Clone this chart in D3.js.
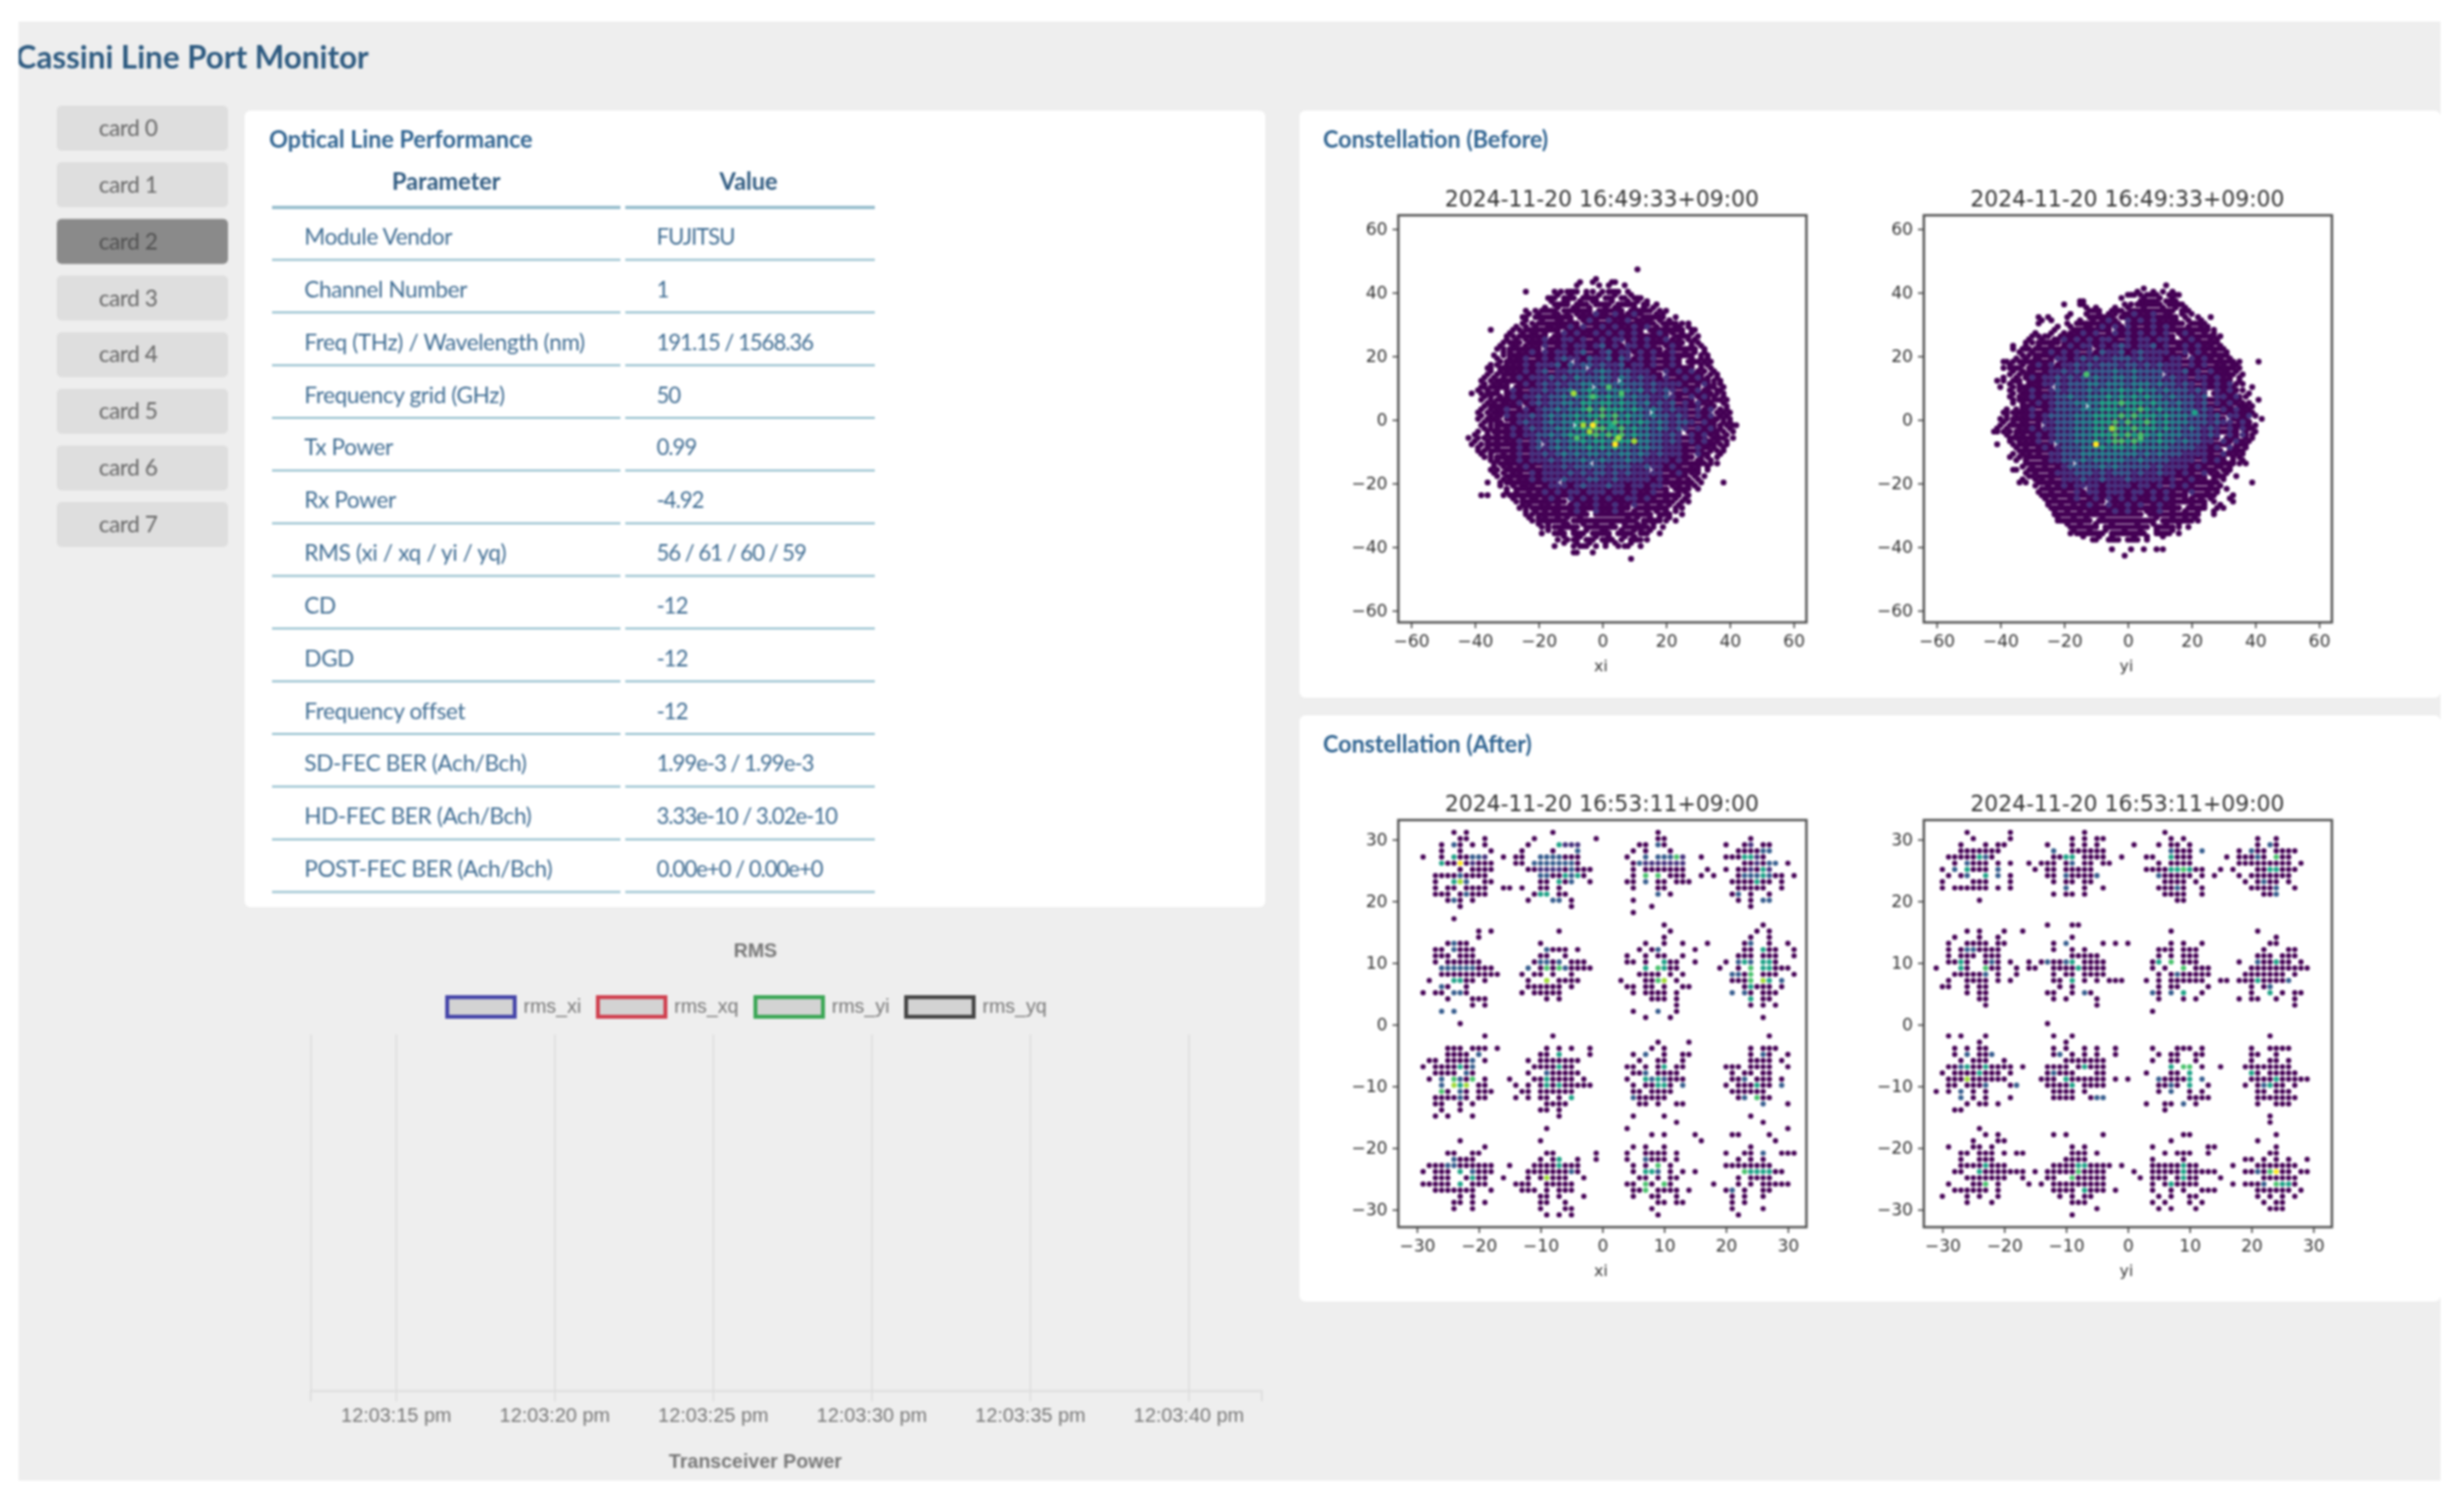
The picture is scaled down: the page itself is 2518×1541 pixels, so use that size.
<!DOCTYPE html>
<html>
<head>
<meta charset="utf-8">
<title>Cassini Line Port Monitor</title>
<script src="https://d3js.org/d3.v7.min.js"></script>
<style>
  html, body { margin: 0; padding: 0; background: #fff; }
  svg { display: block; filter: blur(0.8px); }
  .ui { font-family: Lato, "Open Sans", sans-serif; }
  .mpl { font-family: "DejaVu Sans", sans-serif; fill: #333; }
  .cjs { font-family: "Liberation Sans", Arial, sans-serif; fill: #777; }
</style>
</head>
<body>
<svg id="page" width="2518" height="1541"></svg>
<script>
// Sidebar and table content.
const cards = ["card 0", "card 1", "card 2", "card 3", "card 4", "card 5", "card 6", "card 7"];
const activeCard = "card 2";
const tableHeader = ["Parameter", "Value"];
const paramNames = ["Module Vendor", "Channel Number", "Freq (THz) / Wavelength (nm)", "Frequency grid (GHz)", "Tx Power", "Rx Power", "RMS (xi / xq / yi / yq)", "CD", "DGD", "Frequency offset", "SD-FEC BER (Ach/Bch)", "HD-FEC BER (Ach/Bch)", "POST-FEC BER (Ach/Bch)"];
const paramValues = ["FUJITSU", "1", "191.15 / 1568.36", "50", "0.99", "-4.92", "56 / 61 / 60 / 59", "-12", "-12", "-12", "1.99e-3 / 1.99e-3", "3.33e-10 / 3.02e-10", "0.00e+0 / 0.00e+0"];

// RMS chart: the reference shows an empty time window.
const rmsSeries = ["rms_xi", "rms_xq", "rms_yi", "rms_yq"];
const rmsColors = ["#4444a8", "#d0404f", "#3aa655", "#444444"];
const rmsTicks = ["12:03:15", "12:03:20", "12:03:25", "12:03:30", "12:03:35", "12:03:40"];
const rmsWindow = ["12:03:12.3", "12:03:42.3"];

// Constellation titles and ticks.
const beforeTime = "2024-11-20 16:49:33+09:00";
const afterTime = "2024-11-20 16:53:11+09:00";
const beforeTicks = [-60, -40, -20, 0, 20, 40, 60];
const afterTicks = [-30, -20, -10, 0, 10, 20, 30];

// After panels: [y, "x x:level a~b:level"], level is the colour bin (default 1).
const afterXiRows = [
[31,"-24 -22 -8 9"],
[30,"-23 -22 -19 -11 -1 9 10 24"],
[29,"-26 -24:3 -23 -21 -19 -12 -7:5 -6~-4:2 6 7 9:3 10 20 23 24:2 26 27"],
[28,"-26 -23 -18 -13 -8 -4:3 5 7 11 22 23 24 25 26:3 27:3"],
[27,"-29 -26 -24:5 -23 -22 -21:3 -20:3 -19:2 -16 -14 -13 -10~-7:3 -6 -5 -4 4 7:3 9:3 10:3 11:3 12:6 13:2 16 20 21 22 23:5 24:5 25:2 26"],
[26,"-26:5 -25 -24 -23:8 -22 -21:2 -20 -19 -18 -14 -13 -11~-6:3 -5:3 -4 5 6:3 7~13:2 23 24 25:2 26 27:3 28:3 30"],
[25,"-23 -21 -20 -19 -18 -12 -11 -10~-7:2 -6 -5:3 -4 -3 -2 5 7 8 9 10 11 12 13 17 20 22 23 24:2 25 26:5 27:2"],
[24,"-27 -26 -25 -24 -23:3 -22 -21 -20 -19 -10:3 -9:3 -8 -7 -6:5 -5:3 -4:5 -3 5 7:6 9:6 11 12 13 16 18 22 23:3 24:3 25:3 26:5 27:3 28 29 31"],
[23,"-27 -24:5 -23:7 -22:3 -19 -18 -10 -9 -7:5 -6 -5:3 -2 4 5 7:3 9 10 12 13 14 21 22 23 24 25:5 26 27 29"],
[22,"-27 -25 -24 -22 -21 -20 -19 -16 -15 -13 -10 -9 -7 5 9 10 22 23 24 25 26 29"],
[21,"-27 -26 -25 -23 -22:3 -21 -20 -19 -11 -10:5 -9:5 -7 -6 9:3 11 21 22:3 24 27"],
[20,"-25 -24:3 -23 -21 -12 -8:3 -7:3 -5 5 22 24 26:3 27:3"],
[19,"-23 -5 8 24"],
[18,"5"],
[17,"-24"],
[16,"10 26"],
[15,"-20 -18 -7 11 25 27"],
[14,"-20 10 24 27"],
[13,"-25 -24:3 -23 -22 -10 7 10 13 17 23 24:3 27 30"],
[12,"-27 -26 -24:3 -23 -22 -21 -9:3 -8 -7 -6 -4 6 8 9:3 15 23 24 26:5 27 28 31"],
[11,"-27 -26 -25 -23 -22 -21 -10 -9 -6 4 7 9 10 13 22 23 24 26 27 28 31"],
[10,"-27 -25 -24 -23 -22 -21 -20 -11 -10:3 -9:3 -8 -7:3 -5 -4 -3 4 5 7 10:5 11 12 15 20 22:3 23:5 24:3 26:5 27:5 28"],
[9,"-26:3 -25:3 -24~-21:3 -20 -19 -18 -12:3 -10 -9:6 -8 -7:6 -6:3 -5 -4 -3 -2 7:5 9:6 10:5 11 12 19 22 24:6 26:5 27:5 28 29 30"],
[8,"-26 -25~-22 -21 -20 -19 -18 -17 -13 -11 -10 -8 -5 6 7 8 9 11 13 21:3 22:3 23 24:6 26 27 28 31"],
[7,"-28 -24:5 -23:5 -22 -21 -19 -12 -9:7 -7 -6 -5 -4 3 7 8 9:6 10:7 12 21 22 23 24:6 26:7 27:5 29:3"],
[6,"-26:3 -25 -22 -12 -11 -10 -9 -8 -7 -5 4 5 7 8 10 13 14 23 24:5 25 26 27 29"],
[5,"-29 -27 -26 -24:3 -23:3 -22 -13 -11 -10 -9 -8 -7 5 7 8 9 10 12 21:3 23:3 24 26 27 28"],
[4,"-25 -21 -20 -19 -9 -7 8 9 10 12 24:5 26 27"],
[3,"-21 -19 12 24 26 28"],
[2,"-26:3 -24:3 5 9:3 12"],
[1,"7 11 26"],
[0,"-23"],
[-2,"-19 -8 27"],
[-3,"9 14"],
[-4,"-25 -24 -23 -21 -20 -19 -17 -9 -7 -5 -2 8 10 24 26 27 28"],
[-5,"-25 -24 -23 -22 -20:3 -10 -9 -7:5 -2 5 7:3 10 13 14 24 26:3 27 30"],
[-6,"-28 -27 -25 -24 -23 -22 -21:3 -19 -12 -10 -9 -8 -7 -6 -5 -4 6 9 10 13 24 25 26 27 29"],
[-7,"-29 -27 -26 -25 -24 -23:5 -22 -21:3 -11 -10 -9 -8 -7:5 -6 -5 4 5 7 9 10:5 12 13 20 21 22 24 25 26 27 30"],
[-8,"-27 -26 -25 -24 -22:3 -21 -12 -9:3 -8 -7 -6 -5 -4 5 6 7:3 9 10 11 12 21 23 24 26 27"],
[-9,"-28 -26:3 -24:6 -23:3 -22 -21:6 -19 -15 -11 -10 -9:5 -8 -7 -6 -5 -3 4 7:5 8:3 9:5 10:3 11 12 13 21 22 23:3 25 26 27 29"],
[-10,"-26:3 -24:7 -23:5 -22:7 -20 -19 -14 -12 -10 -9:5 -8 -7:5 -6 -5 -4 -3 -2 5 7 8 9:5 10:5 11 13:3 20 22 23 24 25:5 26 27 29:3"],
[-11,"-26:6 -25 -23:3 -22 -20 -19 -18 -13 -12 -10 -9 -8 -7 -6 -5 5 6 8 9 10 11 21 22 23 24 25 26"],
[-12,"-27 -26 -25 -24 -23:3 -22 -20 -19 -14 -12 -10 -9 -7 -5:5 5:3 6 7 8 9 10 22 23:3 25:6 26 27"],
[-13,"-27 -26 -23 -21 -9 -8 -7 -6 6 7 9 12 13 26:3 30"],
[-14,"-26 -23 -10 -9 -7"],
[-15,"-27 -25 -21 -7 5 10 24"],
[-16,"12 26"],
[-17,"-9 4 30"],
[-18,"8 10 15 21 22 27"],
[-19,"-23 -10 16 28"],
[-20,"-19 5 7 10 24"],
[-21,"-25 -24 -21 -20 -9 -8 -1 4 7 8 9 10 12 20 23 24 26:3 29 30 31"],
[-22,"-24:3 -23 -22 -21 -10 -8 -7:5 -4 -1 4 7:3 8 9 10 12 22 24 26"],
[-23,"-28 -27 -26 -25:3 -24:3 -23 -22 -21 -20 -19 -18 -15 -11 -10 -9 -8 -7:5 -6 -5 -4 5 7 9:6 11 20 21 22 23 24 25 26 27"],
[-24,"-29 -27 -26 -25 -23:5 -21:3 -20 -19 -18 -12 -11 -10 -9 -8 -7 -6 -5:3 -4 5 7:5 8:5 9:3 11 13 15 23:6 24:5 25:5 26:5 27:5 28 29"],
[-25,"-27 -26 -25 -22 -21:5 -20 -19 -16 -12 -10 -9:7 -8 -7 -6 -3 6 7 9 11 12 22 24 25 26 27"],
[-26,"-29 -28 -27 -26 -25 -23:5 -21 -20 -19 -14 -13 -12 -9 -8 -7 -6 -5 4 5 7:6 8 10:6 11 18 22 24 26 27 28 29 30"],
[-27,"-27 -26 -25 -24 -23 -22 -21 -18 -13 -12 -11 -9 -7 -6 -5 5 6 7:6 9 10 11 12 14 20 21:3 23 26 27"],
[-28,"-23 -21 -10 -9 -7 -3 5 8 9 12 21 23 26"],
[-29,"-24 -23 -21 -19 -10 -9 -6 9 10 12 13 21 23"],
[-30,"-24 -21 -10 -6 -5 8 21 26"],
[-31,"-9 -7 -5 9 22"]
];

const afterYiRows = [
[31,"-26 -19 -7 6"],
[30,"-25 -19 -9 -7 -5 -4 7 9 21 24"],
[29,"-27 -23 -21 -20 -13 -9 -7 -5 1 5 7 8 10 21 23:3 24"],
[28,"-27~-21 -12:3 -9 -8 -7 -6 -5 -4 7:3 8 9 10 12:3 18 20:3 21 22 24 25 26 27"],
[27,"-29 -28 -27 -26 -25 -24:5 -23:3 -22 -12 -11 -10:5 -9:5 -7 -6 -5 -4 -1 3 4 7:5 8 9 10 16 18 19 20 21:3 22 24:6 25 26"],
[26,"-28 -26:3 -25 -24 -23 -21 -19 -16 -14 -13 -12 -10 -9:3 -7 -6 -4 -3 5 7 8 9 10 18 19 20 21 22 23 24 25 26 28"],
[25,"-30 -28:3 -26:5 -25 -24 -23 -21:3 -15 -13 -12 -10 -9 -8 -7 -6 3 4 5 6 7:5 8:5 9:6 10:5 11 12 15 17 21 22 23:5 24:5 25 26 27"],
[24,"-29 -27 -26:3 -23:5 -21:3 -19 -13 -12 -10:3 -9 -8 -7 -6 -5:3 5:3 6 7 8 9 10 12 14 18 20 21 22 23 24 25 26"],
[23,"-30 -25 -24 -23 -19 -12 -10 -9 -7 -6 6 7 8 9 11 19 21 22:3 23 24 26"],
[22,"-30 -28 -27 -26 -25 -24 -23 -21 -19 -10:3 -7 -4 5 6 7 8:3 9 12 20 21 22 23 24:3 27"],
[21,"-12 -10 -9 -7 6 7 8 9 12 22 23 24:3"],
[20,"-24 8 9"],
[16,"-13 -9 -8"],
[15,"-26 -24 -20 -17 7 21"],
[14,"-28 -24 -21 -9 24"],
[13,"-29 -26 -25 -24 -23 -21 -20 -12 -10:3 -4 -2 0 7 9 12 23 24"],
[12,"-29 -27 -26:3 -25:3 -24 -23 -22 -21 -12 -9 -7 5 6 7 9 10 11 22 26 27"],
[11,"-29 -27 -26 -25 -23 -22 -21 -9 -8 -7 -6 -5 5 7 9 10 11 21 22 23 25 26 27"],
[10,"-29 -28 -27:5 -26 -23 -22:3 -21 -19 -16 -14 -13:3 -12 -11 -10:3 -9:5 -7 -6 -5 -4 4 5:5 7:6 9 10 11 18 21:3 22 23 24:5 25 26 28"],
[9,"-31 -27:5 -26 -23:6 -22 -21 -18 -16 -15 -12 -11 -10 -9 -8:5 -7 -6 -5 -4 4 6 9:6 11 12 13 20 21 22 23 24 25 26 27 28 29"],
[8,"-28 -27 -26 -25 -24 -23:3 -21 -18 -12 -10 -9 -7 -6 -5 -4 5 7 8:3 9 10 11 12 13 19 20 21 22 23 24 25 27"],
[7,"-29 -26 -25 -24 -23 -21 -19 -12 -11 -9:5 -7 -5 -3 -2 -1 3 5 7 8 9 10 11 12 15 16 18 19 20 21:5 22 23 24 25 26:3"],
[6,"-30 -29 -26 -24 -23 -11 -9 5 7 8 13 20 22 23:3"],
[5,"-26 -24 -23 -13 -12 -9 -7:3 -6 4:3 5 7:3 9:5 12 20 23:5 25 27 28"],
[4,"-24 -23 -12 -10 -5 5 9 11 18 20 21 24 27"],
[3,"-23 -5 27"],
[2,"4"],
[0,"-13"],
[-2,"-29 -27 -23 -12 -9 23"],
[-3,"-24 -10"],
[-4,"-28 -26 -24 -23 -12 -10 -7 -5 -2 4 8 9 10 12 20 23 24 25 26"],
[-5,"-28 -26:3 -24 -23 -22:3 -12 -11:3 -9 -7 -5 -2 5 7 8 11 12 20 21 24"],
[-6,"-27 -25 -24 -23 -20 -10 -9 -8 -7 -6 -5 -4 4 7 8 11 20 23 24 26"],
[-7,"-29 -28 -27:3 -26:5 -25 -24 -23:5 -22 -21 -20 -19 -17 -13 -12 -11 -10 -8 -7:5 -6 -5 -4 7:5 9:6 10:6 12 15 19 20 21 22 23 24 25 26"],
[-8,"-30 -28 -27 -26 -25 -24:5 -23 -22 -21 -19 -13 -12:3 -11 -10 -9 -5 -4 3 7 8 10:5 20:5 21 23 24 25 26 27"],
[-9,"-29 -28 -27 -26:7 -25 -24 -23 -22 -21 -20 -14 -13 -12 -10:5 -9 -8 -7 -6 -5 -4 -2 0 5:3 6 7 8 9 10:5 12:3 20 21 22 23 24:5 25 26 27 28 29"],
[-10,"-29 -28 -26 -25 -24 -23:3 -19 -18:3 -13 -12 -11 -10 -9:5 -7 -6 -5 -4 5 6 7:3 8 10:5 13 19 21 22:3 23:5 24 25 27"],
[-11,"-31 -29 -27:3 -25 -23 -12 -11 -10 -9 -7 5 7:3 10 12 21 22 24 25 26"],
[-12,"-27:3 -25 -23 -19 -12 -11 -10 -9 -6 -5:3 -4:3 10 11 12 13 21 22 23 24 25 26 27"],
[-13,"-26 -24 -23 -21 3 6 7 9:3 11 21 24 25 26"],
[-14,"-28 -27 6"],
[-15,"23"],
[-16,"23"],
[-17,"-24"],
[-18,"-23 -21 -12 -10 -4 9 10 24"],
[-19,"-25 -21 -20 7 21"],
[-20,"-29 -25 -24 -22 -9 -7 4 13 14 24"],
[-21,"-27 -26 -24 -23 -22 -20 -18 -17 -9 -8 -7 -5 6 8 9 10 13 23 24"],
[-22,"-27 -24 -23 -22 -10 -9 -8 -7 4 9 19 20 22 24 26 29"],
[-23,"-27 -26 -25 -24 -23:5 -22 -21 -20 -12 -11 -10 -9 -8:5 -7:5 -6 -5 -4 -3 -1 4 5 6 7 8 9:5 10 11 17 21 22 23 24 25 26 27"],
[-24,"-28 -27 -24:5 -23 -22 -21 -20 -19 -18 -17 -15 -13 -12 -11 -10 -9 -8:6 -7 -6 -5 -4 1 4 5 6 7 8 9:5 10 11 12 13 14 19 20 21:3 22 23:6 24:8 25 26 28 29"],
[-25,"-26 -25 -24 -23 -22 -21 -20 -17 -13 -12 -9:6 -8 -7 -6 -5 -4 2 4 5 6 8 9:5 10 11 15 22 23 24 25 26 27"],
[-26,"-29 -25 -24 -23:6 -21 -16 -14 -12 -11 -10 -9 -8 -7 -6 -5 -4 4 6 7:5 8 9 10 11 17 19 20 21 22:3 24:6 25:5 26:5 27"],
[-27,"-28 -27 -26 -25 -24 -23 -21 -12 -11 -10 -9 -7:5 -6 -5 -4 -2 4 7 9 12 13 14 21 22 23 24 25 26 28"],
[-28,"-30 -26 -24 -21 -11 -9 -7 -6 5 7 10 11 21 23 25 27"],
[-29,"-26 -22 -9 -8 -7 4 6 10 12 22 24 25"],
[-30,"-5 5 7 11 23 24 25"],
[-31,"-9"]
];

// Before panels, outer shape: same row format as above, every cell level 1.
const beforeXiShape = [
[47,"11"],[44,"-2"],[43,"-7 -3 3 4"],[42,"-8 -1 2 7"],
[40,"-24 -15 -13 -11~-8 -5 -3 0 2~5 8"],
[39,"-14 -10 -5 -1 4 9"],
[38,"-17~-15 -12~-9 -6~-2 1~3 6~7 10~12"],
[37,"-16 -12 -11 -7 -3 -2 3 8 11 14"],
[36,"-15~-11 -8~-5 -2~2 5~10 13~14 17"],
[35,"-18 -14 -9 -8 -4 1 4 5 10 13 16"],
[34,"-24 -21 -19~-15 -12~-4 -1~6 9~15 18 20"],
[33,"-23 -20 -15 -14 -11 -6 -2 1 6 11 12 17 19"],
[32,"-25 -24 -21~-10 -7~10 13~19 23"],
[31,"-24 -19 -14 -13 -10 11 14 15 18 21"],
[30,"-25 -22 -20~-8 -5~16 19~23 25 27"],
[29,"-27 -24 -21 -17 -16 -13 13 17 20 23 24 27"],
[28,"-35 -28 -26 -24~-14 -11~12 15~25 28 29"],
[27,"-29 -25 -22 -21 -18 19 22 25 28"],
[26,"-30 -28 -26~-18 -15~20 23~27 30"],
[25,"-30 -27 -24 -22 22 24 27 29"],
[24,"-31 -29~-26 -23~5 8~25 28 30"],
[23,"-32 -28 -27 -24 24 28 31"],
[22,"-33 -31 -29~-20 -17~18 21~29 32"],
[21,"-31 -29 -26 26 29 32"],
[20,"-34 -31 -29~8 11~28 31 33"],
[19,"-33 -29 -27 28 31 33"],
[18,"-32 -30~-11 -8~24 27~30 32 34"],
[17,"-35 -33 -30 -28 28 31 33"],
[16,"-36 -35 -32~-6 -3~28 31 34"],
[15,"-35 -32 -30 30 32 35"],
[14,"-36 -33 -31~18 21~31 34 36"],
[13,"-37 -34 -31 31 33 36"],
[12,"-38 -35 -33~4 7~33 35 37"],
[11,"-37 -34 -32 33 35 37"],
[10,"-38 -37 -35~-30 -27~-4 -1~30 33~35 38"],
[9,"-39 -36 -33 33 36 37"],
[8,"-41 -38 -36~-33 -30~20 23~34 36 38"],
[7,"-37 -35 -32 33 35 38"],
[6,"-38 -35 -33~28 31~33 35~37 39"],
[5,"-36 -34 -31 31 34 38"],
[4,"-37 -35~-26 -23~30 33~35 39"],
[3,"-38 -35 -33 34 37 39"],
[2,"-39 -36 -34~14 17~33 36 38 40"],
[1,"-38 -35 -33 34 37 39"],
[0,"-39 -36~-33 -30~36 38 40"],
[-1,"-37 -35 -33 35 38 40"],
[-2,"-38 -35 -33~-10 -7~35 37 39 41 42"],
[-3,"-37 -35 -33 35 37 40"],
[-4,"-39 -36 -34~24 27~36 38 41"],
[-5,"-40 -36 -33 34 36 39"],
[-6,"-42 -39 -37 -35~32 35~38 41"],
[-7,"-40 -36 -33 33 36 39"],
[-8,"-41 -38 -36~-20 -17~35 37 39"],
[-9,"-39 -36 -33 33 35 38"],
[-10,"-39 -37 -35~31 34 36 38"],
[-11,"-38 -35 -31 31 33 37"],
[-12,"-37 -35 -33~28 31 33 36"],
[-13,"-35 -33 -30 31 34"],
[-14,"-34 -32~-5 -2~32 34 36"],
[-15,"-34 -31 -29 30 33"],
[-16,"-35 -33 -30~14 17~30 33"],
[-17,"-34 -31 -28 28 30"],
[-18,"-33 -30~26 29 32"],
[-19,"-31 -29 -26 27 30"],
[-20,"-36 -32 -30~-15 -12~28 31 38"],
[-21,"-32 -28 -25 -24 24 27 29"],
[-22,"-30 -27~20 23~27 30"],
[-23,"-30 -27 -23 24 26"],
[-24,"-38 -36 -31 -29~24 27"],
[-25,"-28 -25 -22 -21 20 23 26"],
[-26,"-27 -25~-12 -9~22 25 27"],
[-27,"-25 -23 -19 -17 18 21 24"],
[-28,"-26 -24 -22~8 11~20 23 25"],
[-29,"-24 -21 -18 -15 -14 14 17 20 23"],
[-30,"-24 -22 -20~-5 -2~15 18~21 25"],
[-31,"-23 -20 -18 -14 -11 -7 8 11 15 18 21"],
[-32,"-22 -20~-12 -9~10 13~18 20 23"],
[-33,"-20 -17 -12 -11 -6 -2 3 7 11 13 16"],
[-34,"-19 -17 -15~-8 -5~4 7~14 16 19"],
[-35,"-17 -13 -9 -5 0 1 6 10 12 15"],
[-36,"-19 -15~-12 -9~-6 -3~2 5~9 12~14 18"],
[-37,"-12 -8 -7 -2 2 7 10"],
[-38,"-14 -11 -9~-8 -5~-3 0~3 6 9~12 14"],
[-39,"-12 -8 -4 1 4 9"],
[-40,"-15 -9 -7~-5 -2 1 5 7 8 12"],
[-42,"-9 -8 -3"],[-44,"9"]
];

const beforeYiShape = [
[42,"12"],[41,"5"],
[40,"3 8 11 14"],
[39,"0~2 4 6~9 13 15 16"],
[38,"-2 5 10 14"],
[37,"-15 -14 4~9 12~15"],
[36,"-20 -15 -14 -1 1 3~10 13~17"],
[35,"-13 -10 -4 0 5 11 15 18"],
[34,"-12~-9 -5~-2 1~14 17~19"],
[33,"-18 -13 -9 -6 -1 8 13 17 20"],
[32,"-28 -25 -19 -12~-5 -2~15 18 22 26"],
[31,"-27 -24 -15 -11 -6 10 15 19 23"],
[30,"-28 -19 -16~-3 0~17 20~24"],
[29,"-22 -18 -13 -9 14 19 23 25"],
[28,"-23 -17~-6 -3~25 27"],
[27,"-29 -24 -20 -15 19 24 27"],
[26,"-30 -28 -26 -25 -21 -19~14 17~27 29"],
[25,"-31 -27 -23 -20 22 26 28"],
[24,"-32 -30 -28~-22 -20~28"],
[23,"-36 -32 -28 -24 26 29"],
[22,"-36 -33~-31 -29~-12 -9~30"],
[21,"-34 -30 -26 27 31"],
[20,"-33 -31 -29~18 21~31"],
[19,"-35 -32 -29 29 32"],
[18,"-39 -38 -36 -34~-24 -21~33 35 41"],
[17,"-37 -33 -30 30 33 34"],
[16,"-39 -37~-34 -31~33 35"],
[15,"-36 -33 -31 31 34"],
[14,"-37 -34 -32~10 13~33 36"],
[13,"-39 -35 -32 32 35"],
[12,"-41 -39 -36~-34 -31~32 35"],
[11,"-37 -34 -31 31 34 36"],
[10,"-40 -36 -34~-25 -22~33 39"],
[9,"-37 -34 -32 33 36"],
[8,"-36 -33~24 27~33 38"],
[7,"-37 -34 -32 33 35 37"],
[6,"-36 -34~35 41"],
[5,"-36 -33 33 36 38"],
[4,"-33~-14 -11~32 35~37 39"],
[3,"-38 -35 -33 33 36 38"],
[2,"-39 -38 -36~39"],
[1,"-38 -35 -33 34 37 40"],
[0,"-40 -38 -36~30 33~37 42"],
[-1,"-39 -36 -33 35 38"],
[-2,"-40 -37~-28 -25~38 40"],
[-3,"-41 -38 -34 34 36 39"],
[-4,"-42 -41 -39 -37 -35~34 37 40"],
[-5,"-38 -35 -33 34 37 39"],
[-6,"-37~28 31~34 37 39"],
[-7,"-37 -34 -32 32 35 38"],
[-8,"-41 -36 -34~-24 -21~31 34~37"],
[-9,"-35 -32 32 34 37"],
[-10,"-34~29 32~36"],
[-11,"-36 -33 -31 31 34 36"],
[-12,"-37 -34 -32~30 33 35"],
[-13,"-35 -32 30 33 36"],
[-14,"-32~-18 -15~33 35 37"],
[-15,"-33 -30 29 32"],
[-16,"-36 -35 -31~27 30~32"],
[-17,"-32 -29 28 31"],
[-18,"-31 -30 -28~24 27~30 34"],
[-19,"-33 -29 -27 27 30"],
[-20,"-34 -32 -28~28 39"],
[-21,"-29 -25 26 29"],
[-22,"-27~-15 -12~28 31"],
[-23,"-28 -24 25 28"],
[-24,"-27~18 21~27 33"],
[-25,"-26 -23 23 26 32"],
[-26,"-25~-8 -5~24 27 33"],
[-27,"-25 -21 -17 20 24 29"],
[-28,"-24~16 19~24 28 30"],
[-29,"-23 -19 -15 -12 14 18 22 27"],
[-30,"-23~4 7~22 27"],
[-31,"-22 -17 -13 -8 9 14 18 21"],
[-32,"-22~-12 -9~8 11~20 22"],
[-33,"-19 -15 -10 -5 3 8 12 16"],
[-34,"-18~-10 -7~6 9~14 16 19"],
[-35,"-17 -12 -7 -1 4 9 14"],
[-36,"-18 -16~-8 -5~5 9~13 16"],
[-37,"-14 -9 -5 2 6 11"],
[-38,"-11 -10 -6~-3 0~3 6"],
[-41,"-5 1 5 9 11"],[-43,"-1"]
];

// Before panels, inner density: [y, first x, "levels"], one cell each 2 units, "." keeps the outer cell.
const beforeXiCore = [
[33,-8,"1.121.2112"],
[31,-10,"1.121.2112.1"],
[29,-14,"11212.121211212"],
[27,-18,"1.12121121212121.121"],
[25,-20,"12112212.121221212112"],
[23,-22,"112.1212212312122121.12"],
[21,-24,"1212122123.1231221212112"],
[19,-26,"12.1212322132231321212.121"],
[17,-26,"1212223132332322312212.121"],
[15,-28,"112123.2233323432332221.21212"],
[13,-28,"1212223232433343243232212.1212"],
[11,-30,"1.121232323344343343332322221.12"],
[9,-30,"121.22323343454344443423232.2121"],
[7,-30,"1212232334344554545343322321.212"],
[5,-30,"112123233443554554544342323.2121"],
[3,-32,"12.121233434455465554543432322.212"],
[1,-32,"121223234344545565645443433232.212"],
[-1,-32,"1.12322343445546556554543432332.21"],
[-3,-30,"12123233444555665564544343232.212"],
[-5,-30,"1212233434545565656454433232.2121"],
[-7,-30,"112.232343445455465544433232.2121"],
[-9,-28,"1212323434445454544344332221.21"],
[-11,-28,"12.2232343434434344343232221.21"],
[-13,-28,"1212223233343343334332222121.1"],
[-15,-26,"121.2223233333233322322121.1"],
[-17,-26,"1.212222323233232322222.121"],
[-19,-24,"12122232223322322222121.1"],
[-21,-22,"1.1222123222322122122.1"],
[-23,-20,"1212122122212212112.1"],
[-25,-18,"121.21212121122121.1"],
[-27,-14,"1.12112112112.1"],
[-29,-10,"121.21121.1"]
];

const beforeYiCore = [
[33,-4,"1.12112.1"],
[31,-8,"121.21212.11"],
[29,-12,"1.212121.12121"],
[27,-18,"11212.1212121212.121"],
[25,-22,"1212121221.21221221.121"],
[23,-24,"1.12122121232122312.12121"],
[21,-26,"121212.21322312322221.2121"],
[19,-28,"1.122123232233323222122.2121"],
[17,-30,"121212232323332332323222.212.1"],
[15,-30,"1.1223232333343343333222312.211"],
[13,-32,"12122323233433443433332322.22121"],
[11,-30,"11223233344344434443433232.21212"],
[9,-32,"121.2323334344454454434333232.2121"],
[7,-32,"12122334334445454545443433323.2212"],
[5,-30,"1212333444455545554544343323.2121"],
[3,-32,"12.123333444555455654544433232.2121"],
[1,-32,"1212333344455556565554544433323.2212"],
[-1,-32,"1.1223334445556465565454443332322.21"],
[-3,-32,"1212233344455465565554544343232.2121"],
[-5,-30,"121233344455565656545444333232.212"],
[-7,-30,"12.23334445456656544544343322.2121"],
[-9,-28,"12123334445455454444433332212.21"],
[-11,-28,"1.22333444444444343433322221.21"],
[-13,-26,"122333434444433433332222.2121"],
[-15,-26,"1.123333343433333232222121.1"],
[-17,-24,"12223332323332322322121.21"],
[-19,-24,"1.222322322232222212.1211"],
[-21,-22,"12122221222212212.2121"],
[-23,-20,"1.2122122212212121.12"],
[-25,-18,"12.12121212112121.11"],
[-27,-14,"121.211212.1211"],
[-29,-10,"1.12121.112"]
];

// The few bright cells of the Before panels: [x, y, level].
const beforeXiBright = [[-9,8,7],[-6,-2,7],[-3,-2,8],[-4,-4,7],[5,-6,7],[4,-8,8],[10,-7,7],[6,8,6],[2,10,6],[-4,3,6],[-8,-6,6],[3,-2,5],[-3,7,6]];
const beforeYiBright = [[-13,14,6],[-10,-8,8],[-5,-3,7],[4,-6,6],[-2,5,6],[21,2,5]];

// parse "x x:level a~b:level" rows into points
function parseSparse(rows) {
  const pts = [];
  rows.forEach(([y, text]) => {
    text.split(" ").forEach((tok) => {
      const [range, lv] = tok.split(":");
      const m = range.match(/^(-?\d+)~(-?\d+)$/);
      const from = m ? +m[1] : +range;
      const to = m ? +m[2] : +range;
      for (let x = from; x <= to; x++) pts.push({ x: x, y: y, level: lv ? +lv : 1 });
    });
  });
  return pts;
}

// shape rows, then density rows, then the bright cells on top
function parseDense(shape, core, bright) {
  const pts = parseSparse(shape);
  core.forEach(([y, x0, s]) => {
    s.split("").forEach((ch, i) => {
      if (ch !== ".") pts.push({ x: x0 + 2 * i, y: y, level: +ch });
    });
  });
  bright.forEach(([x, y, level]) => pts.push({ x: x, y: y, level: level }));
  return pts;
}

const svg = d3.select("#page");
const levelColor = d3.scaleSequential(d3.interpolateViridis).domain([1, 8]);

// Page background.
svg.append("rect").attr("x", 19).attr("y", 22).attr("width", 2475).attr("height", 1491).attr("fill", "#eeeeee");
svg.append("text").attr("class", "ui").attr("x", 16).attr("y", 70)
  .attr("font-size", 32).attr("font-weight", 700).attr("fill", "#2d5a80").text("Cassini Line Port Monitor");
// The page edge clips the title's first letter.
svg.append("rect").attr("x", 0).attr("y", 30).attr("width", 19).attr("height", 60).attr("fill", "#fff");

// Sidebar buttons.
const cardY = d3.scalePoint().domain(cards).range([131, 536]);
const cardG = svg.selectAll("g.card").data(cards).join("g").attr("class", "card")
  .attr("transform", (d) => `translate(58,${cardY(d) - 23})`);
cardG.append("rect").attr("width", 175).attr("height", 46).attr("rx", 5)
  .attr("fill", (d) => (d === activeCard ? "#8a8a8a" : "#dedede"));
cardG.append("text").attr("class", "ui").attr("x", 73).attr("y", 31).attr("text-anchor", "middle")
  .attr("font-size", 23).attr("letter-spacing", -0.4).attr("fill", (d) => (d === activeCard ? "#505050" : "#666")).text((d) => d);

// White panels.
[[250, 113, 1043, 814], [1328, 113, 1166, 600], [1328, 731, 1166, 599]].forEach(([x, y, w, h]) => {
  svg.append("rect").attr("x", x).attr("y", y).attr("width", w).attr("height", h).attr("rx", 6).attr("fill", "#fff");
});

// Panel headings.
[["Optical Line Performance", 275, 151], ["Constellation (Before)", 1352, 151], ["Constellation (After)", 1352, 769]].forEach(([t, x, y]) => {
  svg.append("text").attr("class", "ui").attr("x", x).attr("y", y)
    .attr("font-size", 23.8).attr("font-weight", 700).attr("fill", "#2f6390").text(t);
});

// Table.
const rowY = d3.scalePoint().domain(paramNames).range([241, 887]);
const colLines = [[278, 634], [639, 894]];
[456, 765].forEach((x, i) => {
  svg.append("text").attr("class", "ui").attr("x", x).attr("y", 194).attr("text-anchor", "middle")
    .attr("font-size", 24).attr("font-weight", 700).attr("fill", "#2f5a80").text(tableHeader[i]);
});
colLines.forEach(([x1, x2]) => {
  svg.append("line").attr("x1", x1).attr("x2", x2).attr("y1", 212).attr("y2", 212)
    .attr("stroke", "#88b4c6").attr("stroke-width", 3);
  svg.selectAll(null).data(paramNames).join("line")
    .attr("x1", x1).attr("x2", x2)
    .attr("y1", (d) => rowY(d) + 24.5).attr("y2", (d) => rowY(d) + 24.5)
    .attr("stroke", "#8fbccc").attr("stroke-width", 2);
});
svg.selectAll("text.pname").data(paramNames).join("text").attr("class", "ui pname")
  .attr("x", 311).attr("y", (d) => rowY(d) + 9).attr("font-size", 23).attr("letter-spacing", -0.35)
  .attr("fill", "#3f6c92").text((d) => d);
svg.selectAll("text.pval").data(paramValues).join("text").attr("class", "ui pval")
  .attr("x", 671).attr("y", (d, i) => rowY(paramNames[i]) + 9).attr("font-size", 22.5).attr("letter-spacing", -1)
  .attr("fill", "#3f6c92").text((d) => d);

// One matplotlib style scatter panel.
function drawPanel(opts) {
  const x = d3.scaleLinear().domain(opts.domain).range([opts.left, opts.left + 417]);
  const y = d3.scaleLinear().domain(opts.domain).range([opts.top + 416, opts.top]);
  const g = svg.append("g");

  g.append("g").selectAll("circle")
    .data(opts.points.slice().sort((a, b) => a.level - b.level))
    .join("circle")
    .attr("cx", (d) => x(d.x)).attr("cy", (d) => y(d.y)).attr("r", opts.r)
    .attr("fill", (d) => levelColor(d.level));

  g.append("rect").attr("x", opts.left).attr("y", opts.top).attr("width", 417).attr("height", 416)
    .attr("fill", "none").attr("stroke", "#555").attr("stroke-width", 2.5);

  const xAxis = g.append("g").attr("transform", `translate(0,${opts.top + 416})`)
    .call(d3.axisBottom(x).tickValues(opts.ticks).tickSize(6).tickPadding(7));
  const yAxis = g.append("g").attr("transform", `translate(${opts.left},1)`)
    .call(d3.axisLeft(y).tickValues(opts.ticks).tickSize(6).tickPadding(5));
  [xAxis, yAxis].forEach((a) => {
    a.select(".domain").remove();
    a.selectAll("line").attr("stroke", "#444").attr("stroke-width", 1.5);
    a.selectAll("text").attr("class", "mpl").attr("font-size", 17.5);
  });

  g.append("text").attr("class", "mpl").attr("x", opts.left + 208).attr("y", opts.top - 9).attr("text-anchor", "middle")
    .attr("font-size", 22.4).text(opts.title);
  g.append("text").attr("class", "mpl").attr("x", opts.left + 207).attr("y", opts.top + 466).attr("text-anchor", "middle")
    .attr("font-size", 16).text(opts.label);
}

drawPanel({ left: 1429, top: 220, domain: [-64, 64], ticks: beforeTicks, r: 3.1, title: beforeTime, label: "xi", points: parseDense(beforeXiShape, beforeXiCore, beforeXiBright) });
drawPanel({ left: 1966, top: 220, domain: [-64, 64], ticks: beforeTicks, r: 3.1, title: beforeTime, label: "yi", points: parseDense(beforeYiShape, beforeYiCore, beforeYiBright) });
drawPanel({ left: 1429, top: 838, domain: [-33, 33], ticks: afterTicks, r: 2.7, title: afterTime, label: "xi", points: parseSparse(afterXiRows) });
drawPanel({ left: 1966, top: 838, domain: [-33, 33], ticks: afterTicks, r: 2.7, title: afterTime, label: "yi", points: parseSparse(afterYiRows) });

// RMS chart, Chart.js look, no data in the window.
const parseClock = (s) => {
  const [h, m, sec] = s.split(":");
  return new Date(2024, 10, 20, +h, +m, 0, +sec * 1000);
};
const rmsX = d3.scaleTime().domain(rmsWindow.map(parseClock)).range([317, 1289]);
const rmsTop = 1057, rmsBottom = 1421;

svg.append("text").attr("class", "cjs").attr("x", 772).attr("y", 978).attr("text-anchor", "middle")
  .attr("font-size", 20).attr("font-weight", 700).text("RMS");

const legendX = d3.scaleOrdinal().domain(rmsSeries).range([457, 611, 772, 926]);
const legendG = svg.selectAll("g.leg").data(rmsSeries).join("g").attr("class", "leg")
  .attr("transform", (d) => `translate(${legendX(d)},1019)`);
legendG.append("rect").attr("width", 69).attr("height", 20).attr("fill", "#d3d3d3")
  .attr("stroke", (d, i) => rmsColors[i]).attr("stroke-width", 4);
legendG.append("text").attr("class", "cjs").attr("x", 78).attr("y", 16).attr("font-size", 20).text((d) => d);

const rmsAxis = svg.append("g").attr("transform", `translate(0,${rmsBottom})`)
  .call(d3.axisBottom(rmsX).tickValues(rmsTicks.map(parseClock)).tickFormat((d) => d3.timeFormat("%I:%M:%S %p")(d).replace("PM", "pm")).tickSizeOuter(0).tickSize(11).tickPadding(7));
rmsAxis.select(".domain").attr("stroke", "#dddddd").attr("stroke-width", 2);
rmsAxis.selectAll("line").attr("y1", rmsTop - rmsBottom).attr("y2", 11).attr("stroke", "#dddddd").attr("stroke-width", 1.6);
rmsAxis.selectAll("text").attr("class", "cjs").attr("font-size", 20.3);
svg.append("line").attr("x1", 318).attr("x2", 318).attr("y1", rmsTop).attr("y2", rmsBottom)
  .attr("stroke", "#dddddd").attr("stroke-width", 1.6);

svg.append("text").attr("class", "cjs").attr("x", 772).attr("y", 1500).attr("text-anchor", "middle")
  .attr("font-size", 20).attr("font-weight", 700).text("Transceiver Power");
</script>
</body>
</html>
